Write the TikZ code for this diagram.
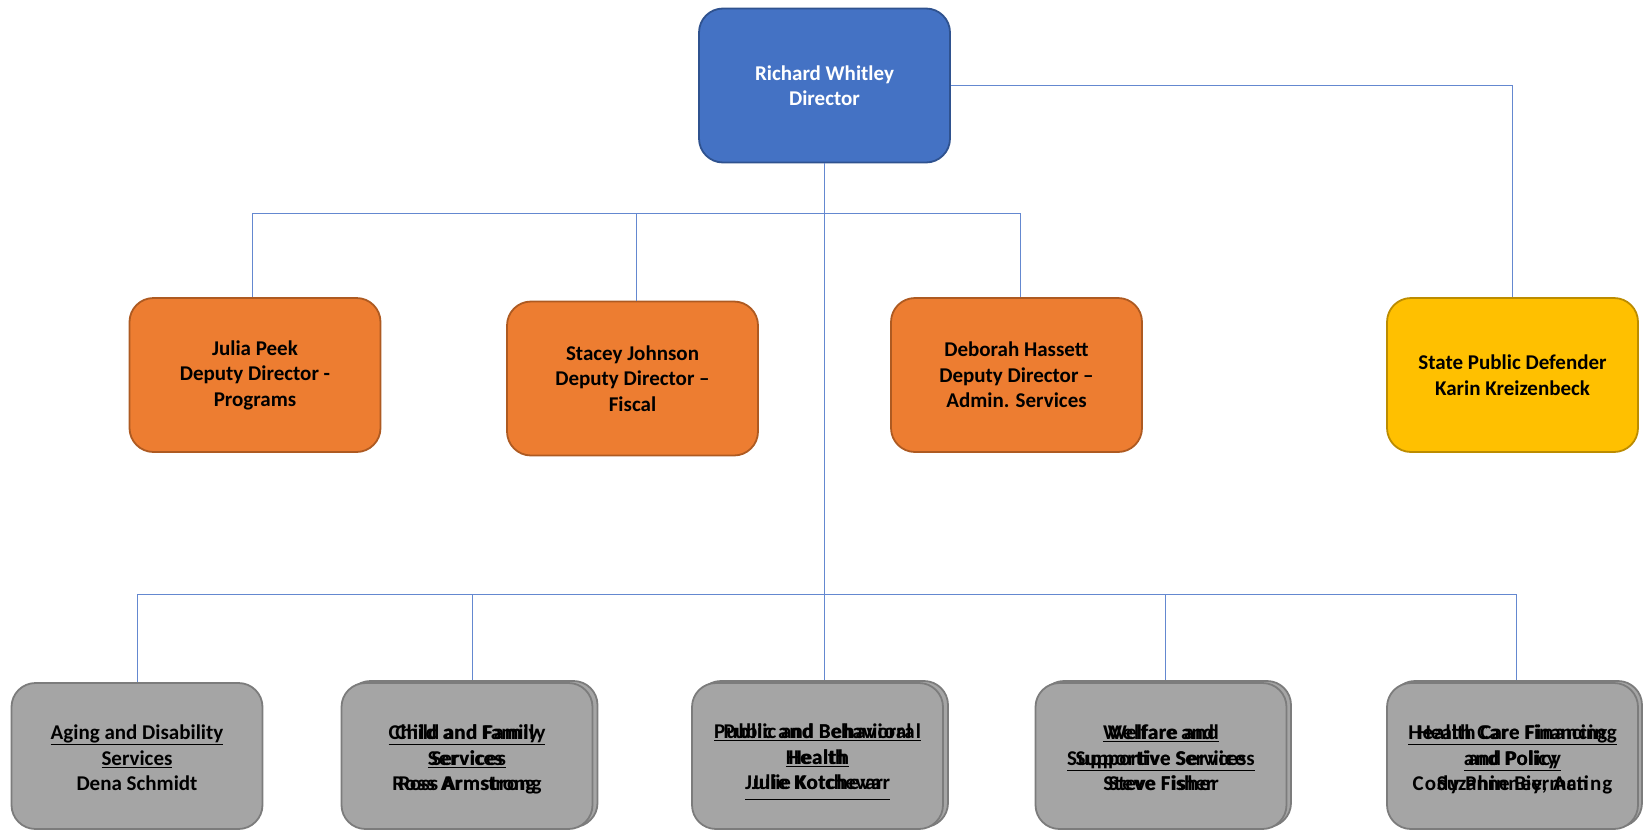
\documentclass[tikz,border=0pt]{standalone}
\usepackage{fontspec}
\setmainfont{Carlito}
\usetikzlibrary{positioning}
\definecolor{dircolor}{RGB}{68,114,196}
\definecolor{dirborder}{RGB}{47,82,143}
\definecolor{depcolor}{RGB}{237,125,49}
\definecolor{depborder}{RGB}{174,90,33}
\definecolor{spdcolor}{RGB}{255,192,0}
\definecolor{spdborder}{RGB}{188,140,0}
\definecolor{divcolor}{RGB}{165,165,165}
\definecolor{divborder}{RGB}{124,124,124}
\definecolor{linkcolor}{RGB}{100,136,208}

\begin{document}
\begin{tikzpicture}[
    x=1pt, y=-1pt,
    box/.style={draw, line width=1.8pt, rounded corners=24pt, minimum width=251pt, minimum height=154pt, align=center, font=\fontsize{21}{25.5}\selectfont\bfseries},
    dirbox/.style={box, fill=dircolor, draw=dirborder, text=white},
    depbox/.style={box, fill=depcolor, draw=depborder},
    spdbox/.style={box, fill=spdcolor, draw=spdborder},
    divbox/.style={box, fill=divcolor, draw=divborder, minimum height=146pt, text height=77pt},
    ghost/.style={align=center, text height=77pt, font={\fontsize{21}{25.5}\selectfont\bfseries\addfontfeatures{LetterSpace=5}}},
    link/.style={draw=linkcolor, line width=1pt},
]
    \useasboundingbox (0,0) rectangle (1644,833);
    \node[dirbox] (dir) at (824.5,85.5) {Richard Whitley\\Director};
    \node[depbox] (julia) at (255,375) {Julia Peek\\Deputy Director -\\Programs};
    \node[depbox] (stacey) at (632.5,378.5) {Stacey Johnson\\Deputy Director --\\Fiscal};
    \node[depbox] (deborah) at (1016.5,375) {Deborah Hassett\\Deputy Director --\\Admin. Services};
    \node[spdbox] (spd) at (1512.5,375) {State Public Defender\\Karin Kreizenbeck};
    % divisions
    \node[divbox] (aging) at (137,756) {\underline{Aging and Disability}\\\underline{Services}\\Dena Schmidt\strut};
    \node[divbox] (childback) at (472,754) {};
    \node[divbox] (child) at (467,756) {\underline{Child and Family}\\\underline{Services}\\Ross Armstrong\strut};
    \node[ghost] at (child) {\underline{Child and Family}\\\underline{Services}\\Ross Armstrong\strut};
    \node[divbox] (healthback) at (822.5,754) {};
    \node[divbox] (health) at (817.5,756) {\underline{Public and Behavioral}\\\underline{Health}\\\underline{Julie Kotchevar\strut}};
    \node[ghost] at (health) {\underline{Public and Behavioral}\\\underline{Health}\\\underline{Julie Kotchevar\strut}};
    \node[divbox] (welfareback) at (1165.5,754) {};
    \node[divbox] (welfare) at (1161,756) {\underline{Welfare and}\\\underline{Supportive Services}\\Steve Fisher\strut};
    \node[ghost] at (welfare) {\underline{Welfare and}\\\underline{Supportive Services}\\Steve Fisher\strut};
    \node[divbox] (financeback) at (1516.5,754) {};
    \node[divbox] (finance) at (1512.5,756) {\underline{Health Care Financing}\\\underline{and Policy}\\Suzanne Bierman\strut};
    \node[ghost] at (finance) {\underline{Health Care Financing}\\\underline{and Policy}\\Cody Phinney, Acting\strut};
    % connectors
    \coordinate (upbus) at (824.5,213);
    \coordinate (lowbus) at (824.5,594);
    \draw[link] (dir.south) -- (dir.south |- healthback.north);
    \draw[link] (upbus) -| ([xshift=-3]julia.north);
    \draw[link] (upbus) -| ([xshift=4]stacey.north);
    \draw[link] (upbus) -| ([xshift=4]deborah.north);
    \draw[link] (dir.east) -| (spd.north);
    \draw[link] (lowbus) -| (aging.north);
    \draw[link] (lowbus) -| (childback.north);
    \draw[link] (lowbus) -| (welfareback.north);
    \draw[link] (lowbus) -| (financeback.north);
\end{tikzpicture}
\end{document}
